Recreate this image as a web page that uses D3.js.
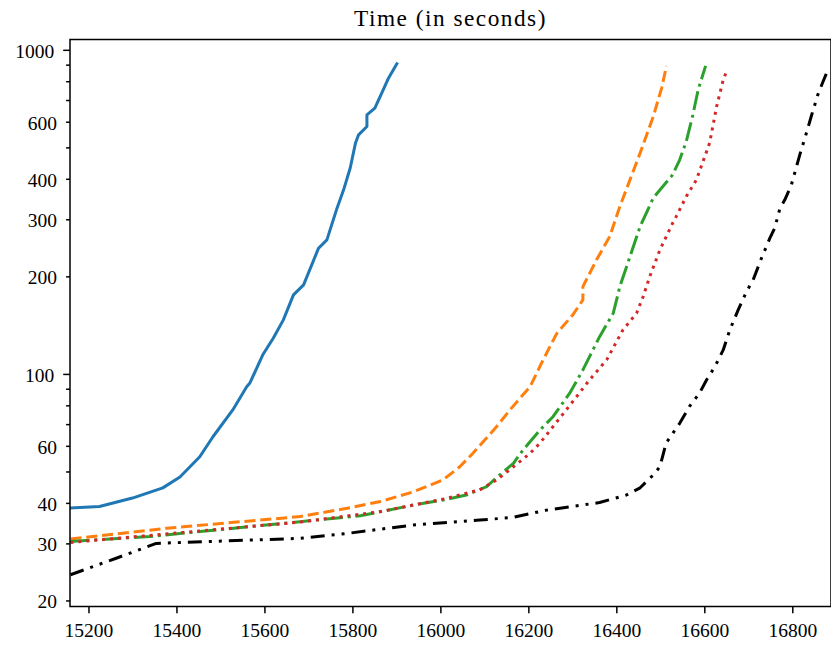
<!DOCTYPE html>
<html>
<head>
<meta charset="utf-8">
<script src="https://cdn.jsdelivr.net/npm/d3@7"></script>
<style>
  body { margin: 0; background: #fff; }
  svg { display: block; }
  svg text { font-family: "Liberation Serif", "Times New Roman", Times, "DejaVu Serif", serif; }
</style>
</head>
<body>
<script>
// cactus plot data: [solved instances, time in seconds]
const solidSeries = [
  [15159, 38.6], [15225, 39.0], [15300, 41.4], [15369, 44.5], [15408, 48.1],
  [15453, 55.5], [15483, 64], [15528, 77.4], [15560, 91.4], [15567, 93.8],
  [15597, 115], [15620, 128.8], [15643, 146.8], [15666, 175.3], [15689, 188.2],
  [15723, 244.3], [15742, 259.2], [15765, 324.7], [15780, 369.8], [15795, 431.7],
  [15807, 515.5], [15814, 546.6], [15833, 579.9], [15833, 630.2], [15851, 660.7],
  [15870, 752.4], [15882, 817.6], [15901, 905.3]
];
const dashedSeries = [
  [15159, 30.95], [15377, 33.4], [15681, 36.3], [15788, 38.5], [15864, 40.4],
  [15939, 43.3], [16006, 47.1], [16044, 51.7], [16074, 56.9], [16128, 68.8],
  [16158, 77.4], [16204, 91.4], [16226, 105.3], [16249, 121.4], [16265, 133.6],
  [16301, 152.1], [16324, 169.2], [16324, 186], [16355, 224.9], [16385, 265.4],
  [16408, 328.5], [16431, 397], [16454, 480], [16484, 622.6], [16503, 761.8],
  [16514, 892.4]
];
const dashDotSeries = [
  [15159, 30.4], [15339, 31.5], [15681, 35.0], [15818, 36.5], [15939, 39.4],
  [16014, 41.0], [16059, 42.3], [16105, 44.9], [16135, 48.8], [16166, 53.0],
  [16188, 58.3], [16227, 67.2], [16256, 73.8], [16294, 87.2], [16324, 102.9],
  [16362, 130.3], [16393, 153.9], [16408, 186], [16431, 230.1], [16454, 284.8],
  [16484, 349.3], [16528, 411.4], [16544, 457.6], [16559, 521.2], [16574, 630.2],
  [16586, 752.4], [16593, 807.7], [16603, 892.4]
];
const dottedSeries = [
  [15159, 30.2], [15681, 34.9], [15864, 37.6], [16014, 41.3], [16090, 43.9],
  [16128, 47.1], [16166, 51.7], [16204, 56.9], [16226, 61.1], [16286, 77.4],
  [16339, 95.8], [16378, 110.5], [16415, 136.7], [16446, 153.9], [16461, 173.3],
  [16476, 199.7], [16499, 241.3], [16528, 291.8], [16536, 305.8], [16559, 352.6],
  [16582, 397], [16597, 452.2], [16612, 515.5], [16628, 668.3], [16643, 807.7],
  [16652, 867.6]
];
const dashDotDotSeries = [
  [15159, 24.0], [15263, 27.0], [15354, 30.0], [15681, 31.1], [15788, 32.2],
  [15939, 34.2], [16090, 35.4], [16166, 36.1], [16241, 38.0], [16362, 40.1],
  [16423, 42.3], [16453, 44.4], [16484, 48.8], [16499, 51.7], [16506, 56.2],
  [16513, 61.1], [16544, 70.4], [16566, 79.3], [16589, 87.2], [16605, 95.8],
  [16624, 105.3], [16643, 118.6], [16658, 136.7], [16677, 157.6], [16696, 179.5],
  [16711, 195.1], [16730, 227.6], [16749, 262.3], [16760, 281.6], [16772, 324.7],
  [16783, 344.4], [16798, 383.2], [16817, 474.2], [16832, 553.3], [16843, 622.6],
  [16858, 726.3], [16870, 798.2], [16881, 867.6]
];

const xTicks = [15200, 15400, 15600, 15800, 16000, 16200, 16400, 16600, 16800];
const yMajorTicks = [100, 1000];
const yMinorTicks = [20, 30, 40, 50, 60, 70, 80, 90, 200, 300, 400, 500, 600, 700, 800, 900];
const yMinorLabels = [20, 30, 40, 60, 200, 300, 400, 600];
const titleText = "Time (in seconds)";

const W = 831, H = 646;
const plotL = 70, plotR = 831, plotT = 39.5, plotB = 606.5;

const svg = d3.select("body").append("svg")
  .attr("width", W)
  .attr("height", H);

const x = d3.scaleLinear().domain([15158, 16888]).range([plotL, plotR]);
const y = d3.scaleLog().domain([19.16, 1076]).range([plotB, plotT]);

// clip lines to the axes box
svg.append("clipPath").attr("id", "plot")
  .append("rect")
  .attr("x", plotL).attr("y", plotT)
  .attr("width", plotR - plotL).attr("height", plotB - plotT);

const line = d3.line().x(d => x(d[0])).y(d => y(d[1]));

const lw = 3;
const series = [
  { data: solidSeries, color: "#1f77b4", dash: null, cap: "square" },
  { data: dashedSeries, color: "#ff7f0e", dash: [3.7 * lw, 1.6 * lw], cap: "butt" },
  { data: dashDotSeries, color: "#2ca02c", dash: [6.4 * lw, 1.6 * lw, 1 * lw, 1.6 * lw], cap: "butt" },
  { data: dottedSeries, color: "#d62728", dash: [1 * lw, 1.65 * lw], cap: "butt" },
  { data: dashDotDotSeries, color: "#000000", dash: [14, 7, 3, 7, 3, 7], cap: "butt" }
];

svg.append("g").attr("clip-path", "url(#plot)")
  .selectAll("path")
  .data(series)
  .enter()
  .append("path")
  .attr("d", d => line(d.data))
  .attr("fill", "none")
  .attr("stroke", d => d.color)
  .attr("stroke-width", lw)
  .attr("stroke-linejoin", "round")
  .attr("stroke-linecap", d => d.cap)
  .attr("stroke-dasharray", d => (d.dash ? d.dash.join(",") : null));

// axes
const fontSize = 19.5;
const styleAxis = g => {
  g.attr("font-family", null);
  g.select(".domain").remove();
  g.selectAll("line").attr("stroke", "#000").attr("stroke-width", 1.5);
  g.selectAll("text")
    .attr("fill", "#000")
    .attr("font-size", fontSize);
};

svg.append("g")
  .attr("transform", `translate(0,${plotB})`)
  .call(d3.axisBottom(x).tickValues(xTicks).tickSize(6.8).tickPadding(10).tickFormat(d3.format("d")))
  .call(styleAxis);

svg.append("g")
  .attr("transform", `translate(${plotL},0)`)
  .call(d3.axisLeft(y).tickValues(yMajorTicks).tickSize(6.8).tickPadding(9).tickFormat(d3.format("d")))
  .call(styleAxis)
  .selectAll("text").attr("dy", "0.38em");

svg.append("g")
  .attr("transform", `translate(${plotL},0)`)
  .call(d3.axisLeft(y).tickValues(yMinorTicks).tickSize(3.9).tickPadding(9)
    .tickFormat(d => (yMinorLabels.includes(d) ? d : "")))
  .call(styleAxis)
  .selectAll("text").attr("dy", "0.38em");

// frame
svg.append("rect")
  .attr("x", plotL).attr("y", plotT)
  .attr("width", plotR - plotL).attr("height", plotB - plotT)
  .attr("fill", "none")
  .attr("stroke", "#000")
  .attr("stroke-width", 1.5);

// title
svg.append("text")
  .attr("x", (plotL + plotR) / 2)
  .attr("y", 26)
  .attr("text-anchor", "middle")
  .attr("font-size", 23.3)
  .attr("letter-spacing", 1.5)
  .attr("fill", "#000")
  .text(titleText);
</script>
</body>
</html>
